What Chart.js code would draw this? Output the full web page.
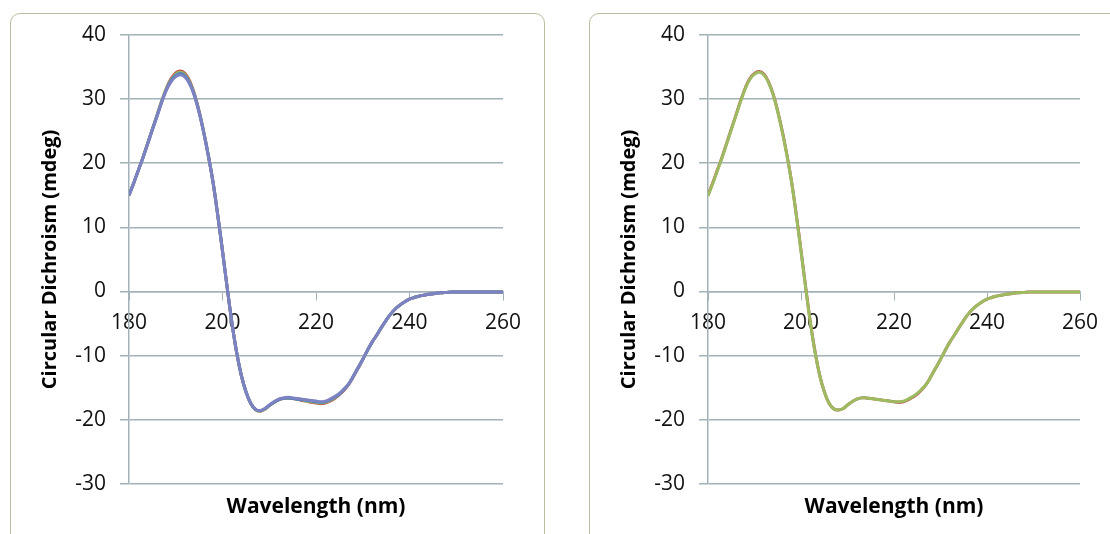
<!DOCTYPE html>
<html>
<head>
<meta charset="utf-8">
<script src="https://cdn.jsdelivr.net/npm/chart.js@4.4.1/dist/chart.umd.min.js"></script>
<style>
  body { margin: 0; background: #fff; width: 1110px; height: 534px; overflow: hidden; position: relative; }
  .panel { position: absolute; top: 13px; height: 560px; border: 1.5px solid #b7c09c; border-radius: 10px; box-sizing: border-box; }
  #panelA { left: 10px; width: 535px; }
  #panelB { left: 589px; width: 560px; }
  canvas { position: absolute; top: 0; }
  #chartA { left: 0; }
  #chartB { left: 579px; }
</style>
</head>
<body>
<div class="panel" id="panelA"></div>
<div class="panel" id="panelB"></div>
<canvas id="chartA" width="560" height="534"></canvas>
<canvas id="chartB" width="531" height="534"></canvas>
<script>
const wavelengths = [
  180, 181, 182, 183, 184, 185, 186, 187, 188, 189,
  190, 191, 192, 193, 194, 195, 196, 197, 198, 199,
  200, 201, 202, 203, 204, 205, 206, 207, 208, 209,
  210, 211, 212, 213, 214, 215, 216, 217, 218, 219,
  220, 221, 222, 223, 224, 225, 226, 227, 228, 229,
  230, 231, 232, 233, 234, 235, 236, 237, 238, 239,
  240, 241, 242, 243, 244, 245, 246, 247, 248, 249,
  250, 251, 252, 253, 254, 255, 256, 257, 258, 259, 260
];

// left panel: four overlapping runs
const leftRed = [
  15.0, 16.9, 18.9, 20.9, 23.1, 25.3, 27.5, 29.7, 31.7, 33.2,
  34.1, 34.4, 34.0, 32.8, 30.8, 28.1, 24.8, 21.1, 16.9, 11.8,
  6.3, 0.6, -4.8, -9.4, -13.0, -15.6, -17.4, -18.4, -18.7, -18.4,
  -17.8, -17.3, -16.9, -16.7, -16.6, -16.7, -16.8, -17.0, -17.1, -17.3,
  -17.4, -17.5, -17.4, -17.1, -16.7, -16.1, -15.4, -14.5, -13.3, -12.0,
  -10.6, -9.2, -7.9, -6.8, -5.6, -4.5, -3.5, -2.7, -2.1, -1.6,
  -1.2, -0.95, -0.75, -0.6, -0.45, -0.35, -0.25, -0.2, -0.15, -0.1,
  -0.1, -0.1, -0.1, -0.1, -0.1, -0.1, -0.1, -0.1, -0.1, -0.1, -0.1
];
const leftGreen = [
  15.0, 16.9, 18.9, 20.9, 23.1, 25.3, 27.5, 29.7, 31.6, 33.0,
  33.9, 34.2, 33.8, 32.6, 30.7, 28.0, 24.8, 21.1, 16.9, 11.8,
  6.3, 0.6, -4.8, -9.4, -13.0, -15.6, -17.4, -18.4, -18.7, -18.4,
  -17.8, -17.3, -16.9, -16.7, -16.6, -16.7, -16.8, -16.9, -17.1, -17.2,
  -17.3, -17.4, -17.3, -17.0, -16.6, -16.0, -15.3, -14.4, -13.2, -11.9,
  -10.6, -9.2, -7.9, -6.8, -5.6, -4.5, -3.5, -2.7, -2.1, -1.6,
  -1.2, -0.95, -0.75, -0.6, -0.45, -0.35, -0.25, -0.2, -0.15, -0.1,
  -0.1, -0.1, -0.1, -0.1, -0.1, -0.1, -0.1, -0.1, -0.1, -0.1, -0.1
];
const leftBlue = [
  15.0, 16.9, 18.9, 20.9, 23.1, 25.3, 27.4, 29.6, 31.5, 32.9,
  33.7, 34.0, 33.6, 32.5, 30.6, 28.0, 24.8, 21.1, 16.9, 11.8,
  6.3, 0.6, -4.8, -9.4, -13.0, -15.6, -17.4, -18.4, -18.6, -18.3,
  -17.8, -17.3, -16.9, -16.7, -16.6, -16.7, -16.8, -16.9, -17.0, -17.1,
  -17.2, -17.3, -17.2, -16.9, -16.5, -16.0, -15.3, -14.4, -13.2, -11.9,
  -10.6, -9.2, -7.9, -6.8, -5.6, -4.5, -3.5, -2.7, -2.1, -1.6,
  -1.2, -0.95, -0.75, -0.6, -0.45, -0.35, -0.25, -0.2, -0.15, -0.1,
  -0.1, -0.1, -0.1, -0.1, -0.1, -0.1, -0.1, -0.1, -0.1, -0.1, -0.1
];
const leftViolet = [
  15.0, 16.9, 18.9, 20.9, 23.0, 25.2, 27.3, 29.5, 31.4, 32.7,
  33.5, 33.8, 33.4, 32.3, 30.5, 27.9, 24.7, 21.0, 16.9, 11.8,
  6.3, 0.6, -4.8, -9.4, -13.0, -15.6, -17.4, -18.3, -18.6, -18.3,
  -17.7, -17.2, -16.8, -16.6, -16.5, -16.6, -16.7, -16.8, -16.9, -17.0,
  -17.1, -17.2, -17.1, -16.8, -16.4, -15.9, -15.2, -14.4, -13.2, -11.9,
  -10.6, -9.2, -7.9, -6.8, -5.6, -4.5, -3.5, -2.7, -2.1, -1.6,
  -1.2, -0.95, -0.75, -0.6, -0.45, -0.35, -0.25, -0.2, -0.15, -0.1,
  -0.1, -0.1, -0.1, -0.1, -0.1, -0.1, -0.1, -0.1, -0.1, -0.1, -0.1
];

// right panel: two overlapping runs
const rightRed = [
  15.0, 16.9, 18.9, 20.9, 23.1, 25.3, 27.5, 29.7, 31.7, 33.2,
  34.0, 34.3, 33.9, 32.7, 30.8, 28.1, 24.9, 21.2, 17.0, 11.9,
  6.4, 0.7, -4.7, -9.3, -13.0, -15.6, -17.4, -18.3, -18.5, -18.3,
  -17.7, -17.2, -16.8, -16.6, -16.6, -16.7, -16.8, -16.9, -17.0, -17.1,
  -17.2, -17.3, -17.2, -16.9, -16.5, -16.0, -15.3, -14.4, -13.2, -11.9,
  -10.6, -9.2, -7.9, -6.8, -5.6, -4.5, -3.5, -2.7, -2.1, -1.6,
  -1.2, -0.95, -0.75, -0.6, -0.45, -0.35, -0.25, -0.2, -0.15, -0.1,
  -0.1, -0.1, -0.1, -0.1, -0.1, -0.1, -0.1, -0.1, -0.1, -0.1, -0.1
];
const rightGreen = [
  14.9, 16.8, 18.8, 20.8, 23.0, 25.2, 27.4, 29.6, 31.6, 33.1,
  33.9, 34.2, 33.8, 32.6, 30.7, 28.0, 24.8, 21.1, 16.9, 11.8,
  6.3, 0.6, -4.8, -9.4, -13.0, -15.6, -17.4, -18.3, -18.5, -18.3,
  -17.7, -17.2, -16.8, -16.6, -16.6, -16.7, -16.8, -16.9, -17.0, -17.1,
  -17.2, -17.2, -17.1, -16.8, -16.4, -15.9, -15.2, -14.4, -13.2, -11.9,
  -10.6, -9.2, -7.9, -6.8, -5.6, -4.5, -3.5, -2.7, -2.1, -1.6,
  -1.2, -0.95, -0.75, -0.6, -0.45, -0.35, -0.25, -0.2, -0.15, -0.1,
  -0.1, -0.1, -0.1, -0.1, -0.1, -0.1, -0.1, -0.1, -0.1, -0.1, -0.1
];

const yTicks = [40, 30, 20, 10, 0, -10, -20, -30];
const xTicks = [180, 200, 220, 240, 260];

const FONT = "'Open Sans', sans-serif";
const GRID = '#a3b1b9';

// order: higher number is drawn first, so the last run in the list ends up on top
function series(values, color, order) {
  return {
    data: values.map((v, i) => ({ x: wavelengths[i], y: v })),
    borderColor: color,
    borderWidth: 3,
    pointRadius: 0,
    tension: 0.4,
    fill: false,
    order: order
  };
}

function makeChart(id, datasets, padRight) {
  const ctx = document.getElementById(id).getContext('2d');
  return new Chart(ctx, {
    type: 'line',
    data: { datasets: datasets },
    options: {
      responsive: false,
      animation: false,
      layout: { padding: { left: 18, top: 35, right: padRight, bottom: 14 } },
      scales: {
        x: {
          type: 'linear',
          position: { y: 0 },
          min: xTicks[0],
          max: xTicks[xTicks.length - 1],
          afterBuildTicks: (scale) => { scale.ticks = xTicks.map(v => ({ value: v })); },
          ticks: { color: '#111', padding: 11, maxRotation: 0, font: { family: FONT, size: 21 } },
          grid: { drawOnChartArea: false, drawTicks: true, tickLength: 8, color: GRID },
          border: { color: GRID, width: 1.5 }
        },
        y: {
          min: -30,
          max: 40,
          afterBuildTicks: (scale) => { scale.ticks = yTicks.map(v => ({ value: v })); },
          afterFit: (scale) => { scale.width = 111; },
          ticks: { color: '#111', padding: 14, font: { family: FONT, size: 21 } },
          grid: { color: GRID, lineWidth: 1.5, tickLength: 9 },
          border: { color: GRID, width: 1.5 },
          title: {
            display: true,
            text: 'Circular Dichroism (mdeg)',
            color: '#000',
            padding: { top: 20, bottom: 0 },
            font: { family: FONT, size: 20, weight: 'bold' }
          }
        }
      },
      plugins: {
        legend: { display: false },
        tooltip: { enabled: false },
        title: {
          display: true,
          position: 'bottom',
          fullSize: false,
          text: 'Wavelength (nm)',
          color: '#000',
          padding: { top: 11, bottom: 0 },
          font: { family: FONT, size: 21, weight: 'bold' }
        }
      }
    }
  });
}

makeChart('chartA', [
  series(leftRed, '#c0504d', 4),
  series(leftGreen, '#9bbb59', 3),
  series(leftBlue, '#4f81bd', 2),
  series(leftViolet, '#7c82c2', 1)
], 57);

makeChart('chartB', [
  series(rightRed, '#c0504d', 2),
  series(rightGreen, '#9dbc62', 1)
], 30);
</script>
</body>
</html>
